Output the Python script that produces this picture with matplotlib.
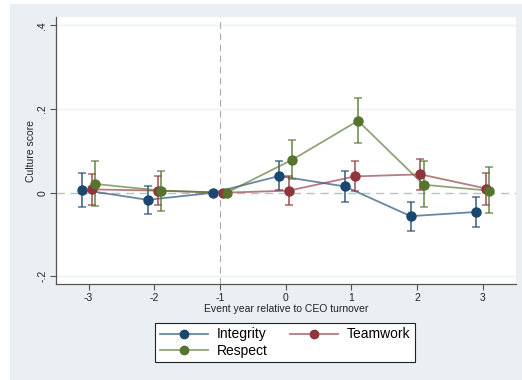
import matplotlib
matplotlib.use("Agg")
import matplotlib.pyplot as plt
from matplotlib.patches import Rectangle
from matplotlib.lines import Line2D
import numpy as np

plt.rcParams['font.family'] = ['Liberation Sans', 'DejaVu Sans']

years = [-3, -2, -1, 0, 1, 2, 3]
integrity = [0.007, -0.017, 0.0, 0.040, 0.015, -0.056, -0.046]
integrity_lo = [-0.033, -0.050, 0.0, 0.007, -0.022, -0.092, -0.082]
integrity_hi = [0.048, 0.017, 0.0, 0.075, 0.051, -0.021, -0.010]
teamwork = [0.008, 0.005, 0.0, 0.005, 0.039, 0.044, 0.010]
teamwork_lo = [-0.029, -0.029, 0.0, -0.029, 0.003, 0.007, -0.029]
teamwork_hi = [0.045, 0.041, 0.0, 0.039, 0.076, 0.080, 0.048]
respect = [0.021, 0.005, 0.0, 0.079, 0.172, 0.019, 0.005]
respect_lo = [-0.031, -0.044, 0.0, 0.033, 0.118, -0.035, -0.048]
respect_hi = [0.076, 0.053, 0.0, 0.125, 0.227, 0.075, 0.061]
yticks = [-0.2, 0, 0.2, 0.4]
ytick_labels = ['-.2', '0', '.2', '.4']

W, H = 522, 380
fig = plt.figure(figsize=(W/100, H/100), dpi=100, facecolor='white')
bg = Rectangle((10/W, 0), 1, (H-4)/H, transform=fig.transFigure,
               facecolor='#EAEFF3', edgecolor='none', zorder=-10)
fig.patches.append(bg)
ax = fig.add_axes([55.7/W, 1-284.3/H, (515.7-55.7)/W, (284.3-16.7)/H], zorder=1)
ax.set_facecolor('white')
ax.set_xlim(-3.5, 3.5)
ax.set_ylim(-0.219, 0.421)

for s in ['top', 'right']:
    ax.spines[s].set_visible(False)
for s in ['left', 'bottom']:
    ax.spines[s].set_color('#555555')
    ax.spines[s].set_linewidth(0.9)

for yv in [-0.2, 0.2, 0.4]:
    ax.axhline(yv, color='#EAF2F3', lw=1.0, zorder=0)
ax.axhline(0, color='#B8C4C4', lw=1.0, ls=(0, (6, 4)), zorder=1)
ax.axvline(-1, color='#AAAAAA', lw=0.8, ls=(0, (6, 4)), zorder=1)

series = [
    (integrity, integrity_lo, integrity_hi, -0.1, '#1A476F', 'Integrity'),
    (teamwork, teamwork_lo, teamwork_hi, 0.05, '#90353B', 'Teamwork'),
    (respect, respect_lo, respect_hi, 0.1, '#55752F', 'Respect'),
]
handles = {}
for vals, lo, hi, off, col, lab in series:
    x = np.array(years) + off
    v = np.array(vals)
    yerr = np.vstack([v - np.array(lo), np.array(hi) - v])
    ax.plot(x, v, color=col, lw=1.3, alpha=0.65, zorder=3)
    ax.errorbar(x, v, yerr=yerr, fmt='none', ecolor=col, elinewidth=1.3,
                capsize=3, capthick=1.1, alpha=0.75, zorder=3)
    ax.plot(x, v, 'o', color=col, ms=6.5, zorder=4)
    ln = Line2D([], [], color=col, lw=1.3, alpha=0.65)
    mk = Line2D([], [], ls='none', marker='o', markersize=6,
                markerfacecolor=col, markeredgecolor=col)
    handles[lab] = (ln, mk)

ax.set_xticks(years)
ax.set_xticklabels([str(y) for y in years])
ax.set_yticks(yticks)
ax.set_yticklabels(ytick_labels, rotation=90, va='center')
ax.tick_params(axis='both', colors='#555555', labelcolor='#222222',
               labelsize=7.5, length=4, width=0.8, pad=2)
ax.set_xlabel('Event year relative to CEO turnover', fontsize=7.5, color='#222222', labelpad=1)
ax.set_ylabel('Culture score', fontsize=7.5, color='#222222', labelpad=1)

order = ['Integrity', 'Respect', 'Teamwork']
leg = fig.legend([handles[k] for k in order], order,
                 ncol=2, loc='center', bbox_to_anchor=(285/W, 1-342.5/H),
                 fontsize=10, frameon=True, fancybox=False, edgecolor='#222222',
                 handlelength=3.5, columnspacing=1.6, handletextpad=0.6,
                 labelspacing=0.15, borderpad=0.35)
leg.get_frame().set_linewidth(0.8)
leg.get_frame().set_facecolor('white')
leg.get_frame().set_alpha(1)

fig.savefig('out.png', dpi=100, facecolor='white')
